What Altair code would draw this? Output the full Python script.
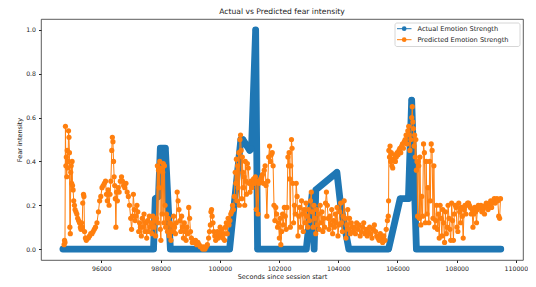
import altair as alt
import pandas as pd

# ---- data ----
actual_t = [94700, 97760, 97820, 97930, 97990, 98160, 98330, 100330, 100710, 100780,
            101010, 101070, 101210, 101275, 102920, 103118, 103185, 103242, 103955,
            104080, 104358, 105700, 106090, 106370, 106480, 106640, 109490]
actual_v = [0, 0, 0.23, 0.24, 0.46, 0.46, 0, 0, 0.50, 0.50,
            0.45, 0.46, 1.0, 0, 0, 0.25, 0, 0.27, 0.35,
            0.20, 0, 0, 0.23, 0.23, 0.68, 0, 0]

pred_t = [94740, 94755, 94770, 94785, 94800, 94815, 94830, 94845, 94860, 94875, 94890, 94905,
          94920, 94935, 94950, 94965, 94980, 94995, 95010, 95025, 95045, 95065, 95090, 95110,
          95140, 95170, 95200, 95230, 95260, 95290, 95310, 95330, 95350, 95370, 95395, 95410,
          95430, 95460, 95490, 95520, 95560, 95600, 95640, 95680, 95720, 95760, 95800, 95850,
          95900, 95940, 95980, 96020, 96060, 96100, 96140, 96170, 96200, 96230, 96260, 96290,
          96320, 96350, 96370, 96390, 96410, 96430, 96450, 96470, 96490, 96510, 96540, 96570,
          96600, 96640, 96680, 96710, 96750, 96790, 96830, 96870, 96910, 96950, 96990, 97020,
          97050, 97080, 97110, 97140, 97170, 97200, 97230, 97260, 97290, 97320, 97350, 97380,
          97410, 97440, 97470, 97500, 97530, 97560, 97590, 97620, 97650, 97680, 97710, 97740,
          97770, 97800, 97830, 97860, 97890, 97910, 97930, 97950, 97970, 97990, 98010, 98030,
          98050, 98070, 98090, 98110, 98130, 98150, 98170, 98200, 98230, 98260, 98290, 98320,
          98350, 98380, 98410, 98440, 98470, 98500, 98530, 98560, 98590, 98620, 98650, 98680,
          98710, 98740, 98770, 98800, 98830, 98860, 98890, 98920, 98950, 98980, 99010, 99040,
          99070, 99100, 99140, 99180, 99220, 99260, 99300, 99340, 99380, 99420, 99460, 99500,
          99540, 99580, 99620, 99650, 99680, 99700, 99720, 99740, 99770, 99800, 99830, 99860,
          99890, 99920, 99950, 99980, 100010, 100040, 100070, 100100, 100130, 100160, 100190, 100220,
          100250, 100280, 100310, 100340, 100370, 100400, 100430, 100460, 100490, 100520, 100540, 100560,
          100580, 100600, 100620, 100640, 100660, 100680, 100700, 100720, 100740, 100760, 100780, 100800,
          100820, 100840, 100860, 100880, 100900, 100930, 100960, 100990, 101020, 101050, 101080, 101110,
          101140, 101170, 101200, 101230, 101260, 101290, 101320, 101350, 101380, 101410, 101440, 101470,
          101500, 101530, 101560, 101590, 101620, 101650, 101680, 101710, 101740, 101770, 101800, 101830,
          101860, 101890, 101920, 101950, 101980, 102010, 102040, 102060, 102090, 102120, 102150, 102180,
          102210, 102240, 102270, 102300, 102320, 102340, 102360, 102380, 102400, 102420, 102440, 102460,
          102490, 102520, 102550, 102580, 102610, 102640, 102670, 102700, 102730, 102760, 102790, 102820,
          102850, 102880, 102910, 102940, 102970, 103000, 103030, 103060, 103090, 103120, 103150, 103180,
          103210, 103240, 103270, 103300, 103330, 103360, 103390, 103420, 103450, 103480, 103510, 103540,
          103570, 103600, 103630, 103660, 103690, 103720, 103750, 103780, 103810, 103840, 103870, 103900,
          103930, 103960, 103990, 104020, 104050, 104080, 104110, 104140, 104170, 104200, 104230, 104260,
          104290, 104320, 104350, 104380, 104410, 104440, 104470, 104500, 104540, 104580, 104620, 104660,
          104700, 104740, 104780, 104820, 104860, 104900, 104940, 104980, 105020, 105060, 105100, 105140,
          105180, 105220, 105260, 105300, 105340, 105380, 105420, 105460, 105500, 105540, 105580, 105620,
          105660, 105690, 105700, 105710, 105730, 105750, 105770, 105790, 105810, 105840, 105870, 105900,
          105930, 105960, 105990, 106020, 106050, 106080, 106110, 106140, 106170, 106200, 106230, 106260,
          106290, 106320, 106350, 106380, 106400, 106420, 106450, 106480, 106500, 106520, 106540, 106560,
          106580, 106600, 106620, 106640, 106660, 106680, 106700, 106720, 106740, 106760, 106790, 106820,
          106850, 106880, 106910, 106940, 106970, 107000, 107030, 107060, 107090, 107110, 107140, 107170,
          107200, 107230, 107260, 107290, 107320, 107350, 107380, 107410, 107440, 107470, 107500, 107530,
          107560, 107590, 107620, 107650, 107680, 107710, 107740, 107770, 107800, 107830, 107860, 107890,
          107920, 107950, 107980, 108010, 108040, 108070, 108100, 108130, 108160, 108190, 108220, 108250,
          108280, 108310, 108340, 108370, 108400, 108430, 108460, 108490, 108520, 108550, 108580, 108610,
          108640, 108670, 108700, 108730, 108760, 108790, 108820, 108850, 108880, 108910, 108940, 108970,
          109000, 109030, 109060, 109090, 109120, 109150, 109180, 109210, 109240, 109270, 109300, 109330,
          109360, 109390, 109420, 109450, 109480]
pred_v = [0.02, 0.04, 0.03, 0.56, 0.38, 0.42, 0.33, 0.45, 0.37, 0.40, 0.54, 0.51,
          0.44, 0.10, 0.07, 0.35, 0.38, 0.30, 0.40, 0.29, 0.27, 0.22, 0.20, 0.18,
          0.17, 0.16, 0.14, 0.13, 0.12, 0.10, 0.09, 0.12, 0.10, 0.21, 0.25, 0.24,
          0.08, 0.05, 0.04, 0.05, 0.05, 0.06, 0.07, 0.07, 0.08, 0.09, 0.10, 0.12,
          0.17, 0.22, 0.24, 0.28, 0.29, 0.30, 0.31, 0.25, 0.22, 0.27, 0.20, 0.25,
          0.31, 0.45, 0.51, 0.49, 0.40, 0.33, 0.29, 0.23, 0.10, 0.26, 0.22, 0.28,
          0.26, 0.31, 0.33, 0.31, 0.29, 0.28, 0.30, 0.26, 0.24, 0.20, 0.14, 0.09,
          0.15, 0.25, 0.18, 0.13, 0.15, 0.20, 0.17, 0.08, 0.12, 0.10, 0.06, 0.14,
          0.10, 0.16, 0.08, 0.12, 0.05, 0.13, 0.08, 0.15, 0.10, 0.12, 0.07, 0.15,
          0.10, 0.13, 0.06, 0.14, 0.38, 0.12, 0.36, 0.28, 0.40, 0.09, 0.04, 0.37,
          0.16, 0.35, 0.39, 0.12, 0.38, 0.20, 0.10, 0.16, 0.08, 0.14, 0.06, 0.12,
          0.04, 0.11, 0.08, 0.15, 0.10, 0.07, 0.12, 0.26, 0.22, 0.18, 0.13, 0.08,
          0.15, 0.10, 0.05, 0.12, 0.08, 0.04, 0.10, 0.07, 0.19, 0.14, 0.08, 0.05,
          0.03, 0.04, 0.03, 0.04, 0.02, 0.03, 0.02, 0.01, 0.01, 0.00, 0.01, 0.00,
          0.01, 0.02, 0.05, 0.08, 0.11, 0.17, 0.18, 0.15, 0.12, 0.08, 0.06, 0.04,
          0.06, 0.08, 0.05, 0.07, 0.10, 0.06, 0.09, 0.05, 0.07, 0.04, 0.10, 0.12,
          0.07, 0.14, 0.11, 0.13, 0.16, 0.17, 0.20, 0.18, 0.24, 0.35, 0.30, 0.41,
          0.22, 0.38, 0.28, 0.44, 0.20, 0.50, 0.52, 0.45, 0.23, 0.42, 0.35, 0.28,
          0.33, 0.20, 0.40, 0.31, 0.25, 0.39, 0.37, 0.30, 0.26, 0.31, 0.28, 0.30,
          0.32, 0.30, 0.33, 0.18, 0.31, 0.16, 0.30, 0.31, 0.32, 0.33, 0.34, 0.30,
          0.36, 0.38, 0.29, 0.15, 0.31, 0.42, 0.47, 0.40, 0.43, 0.44, 0.38, 0.20,
          0.13, 0.19, 0.16, 0.10, 0.12, 0.05, 0.14, 0.02, 0.08, 0.16, 0.11, 0.19,
          0.15, 0.09, 0.19, 0.42, 0.38, 0.44, 0.32, 0.10, 0.38, 0.50, 0.46, 0.30,
          0.12, 0.20, 0.16, 0.30, 0.24, 0.06, 0.15, 0.19, 0.10, 0.22, 0.16, 0.08,
          0.18, 0.12, 0.21, 0.15, 0.10, 0.18, 0.13, 0.22, 0.26, 0.17, 0.10, 0.20,
          0.14, 0.07, 0.18, 0.11, 0.16, 0.09, 0.20, 0.12, 0.17, 0.08, 0.14, 0.10,
          0.21, 0.26, 0.20, 0.14, 0.09, 0.15, 0.11, 0.18, 0.07, 0.13, 0.10, 0.16,
          0.12, 0.19, 0.06, 0.11, 0.17, 0.21, 0.12, 0.08, 0.15, 0.22, 0.14, 0.05,
          0.11, 0.18, 0.09, 0.14, 0.07, 0.12, 0.10, 0.08, 0.10, 0.07, 0.12, 0.09,
          0.11, 0.06, 0.08, 0.10, 0.12, 0.07, 0.09, 0.06, 0.08, 0.10, 0.07, 0.05,
          0.09, 0.11, 0.08, 0.06, 0.05, 0.04, 0.07, 0.05, 0.03, 0.06, 0.04, 0.09,
          0.13, 0.15, 0.22, 0.45, 0.42, 0.47, 0.40, 0.44, 0.38, 0.37, 0.41, 0.43,
          0.40, 0.42, 0.44, 0.43, 0.45, 0.46, 0.44, 0.47, 0.48, 0.46, 0.49, 0.50,
          0.52, 0.48, 0.54, 0.56, 0.52, 0.45, 0.50, 0.60, 0.65, 0.58, 0.55, 0.47,
          0.52, 0.42, 0.50, 0.36, 0.40, 0.15, 0.40, 0.38, 0.14, 0.42, 0.11, 0.24,
          0.15, 0.48, 0.44, 0.12, 0.40, 0.16, 0.28, 0.12, 0.40, 0.22, 0.48, 0.45,
          0.14, 0.38, 0.10, 0.13, 0.20, 0.09, 0.16, 0.05, 0.20, 0.14, 0.06, 0.18,
          0.12, 0.03, 0.17, 0.07, 0.10, 0.20, 0.14, 0.09, 0.04, 0.21, 0.13, 0.04,
          0.16, 0.20, 0.19, 0.10, 0.08, 0.21, 0.17, 0.12, 0.19, 0.15, 0.05, 0.18,
          0.20, 0.16, 0.20, 0.21, 0.21, 0.20, 0.19, 0.16, 0.18, 0.10, 0.16, 0.19,
          0.17, 0.12, 0.18, 0.20, 0.19, 0.19, 0.20, 0.17, 0.18, 0.19, 0.16, 0.20,
          0.21, 0.19, 0.18, 0.20, 0.21, 0.22, 0.19, 0.21, 0.22, 0.23, 0.21, 0.22,
          0.23, 0.22, 0.15, 0.14, 0.23]

x_ticks = [96000, 98000, 100000, 102000, 104000, 106000, 108000, 110000]
y_ticks = [0.0, 0.2, 0.4, 0.6, 0.8, 1.0]
series_names = ["Actual Emotion Strength", "Predicted Emotion Strength"]
series_colors = ["#1f77b4", "#ff7f0e"]

FONT = "DejaVu Sans"

actual_df = pd.DataFrame({"t": actual_t, "v": actual_v})
pred_df = pd.DataFrame({"t": pred_t, "v": pred_v})

x_enc = alt.X("t:Q", scale=alt.Scale(domain=[93960, 110240], nice=False, zero=False),
              axis=alt.Axis(values=x_ticks, format="d", title="Seconds since session start",
                            grid=False, domain=False, tickSize=2.5, tickColor="#222",
                            labelFontSize=6.2, labelFont=FONT, labelColor="#222",
                            labelPadding=3, titleFont=FONT, titleFontSize=6.5,
                            titleFontWeight="normal", titleColor="#222", titlePadding=2))
y_enc = alt.Y("v:Q", scale=alt.Scale(domain=[-0.05, 1.05], nice=False, zero=False),
              axis=alt.Axis(values=y_ticks, format=".1f", title="Fear intensity",
                            grid=False, domain=False, tickSize=2.5, tickColor="#222",
                            labelFontSize=6.2, labelFont=FONT, labelColor="#222",
                            labelPadding=3, titleFont=FONT, titleFontSize=6.5,
                            titleFontWeight="normal", titleColor="#222", titlePadding=3))

actual_line = alt.Chart(actual_df).mark_line(
    color=series_colors[0], strokeWidth=6.8, strokeCap="round", strokeJoin="round"
).encode(x=x_enc, y=y_enc)
actual_pts = alt.Chart(actual_df).mark_circle(color=series_colors[0], size=36, opacity=1).encode(
    x="t:Q", y="v:Q")

pred_line = alt.Chart(pred_df).mark_line(color=series_colors[1], strokeWidth=1).encode(
    x="t:Q", y="v:Q")
pred_pts = alt.Chart(pred_df).mark_circle(color=series_colors[1], size=27, opacity=1).encode(
    x="t:Q", y="v:Q")

# legend (decoration, plot-pixel positions)
leg_box = alt.Chart(pd.DataFrame({"a": [0]})).mark_rect(
    fill="white", fillOpacity=0.8, stroke="#cccccc", strokeWidth=0.8, cornerRadius=2
).encode(x=alt.value(354), x2=alt.value(479), y=alt.value(4), y2=alt.value(27.5))

leg_rows = pd.DataFrame({"name": series_names, "color": series_colors, "yy": [9.7, 20.7]})
leg_line = alt.Chart(leg_rows).mark_rule(strokeWidth=1).encode(
    x=alt.value(356), x2=alt.value(370.5), y=alt.Y("yy:Q", scale=None),
    color=alt.Color("color:N", scale=None))
leg_dot = alt.Chart(leg_rows).mark_circle(size=22, opacity=1).encode(
    x=alt.value(363.2), y=alt.Y("yy:Q", scale=None), color=alt.Color("color:N", scale=None))
leg_text = alt.Chart(leg_rows).mark_text(
    align="left", baseline="middle", font=FONT, fontSize=6.6, color="#222"
).encode(x=alt.value(376.5), y=alt.Y("yy:Q", scale=None), text="name:N")

chart = alt.layer(
    actual_line, actual_pts, pred_line, pred_pts, leg_box, leg_line, leg_dot, leg_text
).properties(
    width=482, height=241,
    title=alt.TitleParams("Actual vs Predicted fear intensity", font=FONT, fontSize=7.6,
                          fontWeight="normal", color="#222", anchor="middle", offset=3),
    autosize=alt.AutoSizeParams(type="none"),
    padding={"left": 33, "top": 11, "right": 5, "bottom": 27},
).configure_view(stroke="#333", strokeWidth=0.8)

chart.save("out.html", embed_options={"renderer": "svg", "actions": False})
